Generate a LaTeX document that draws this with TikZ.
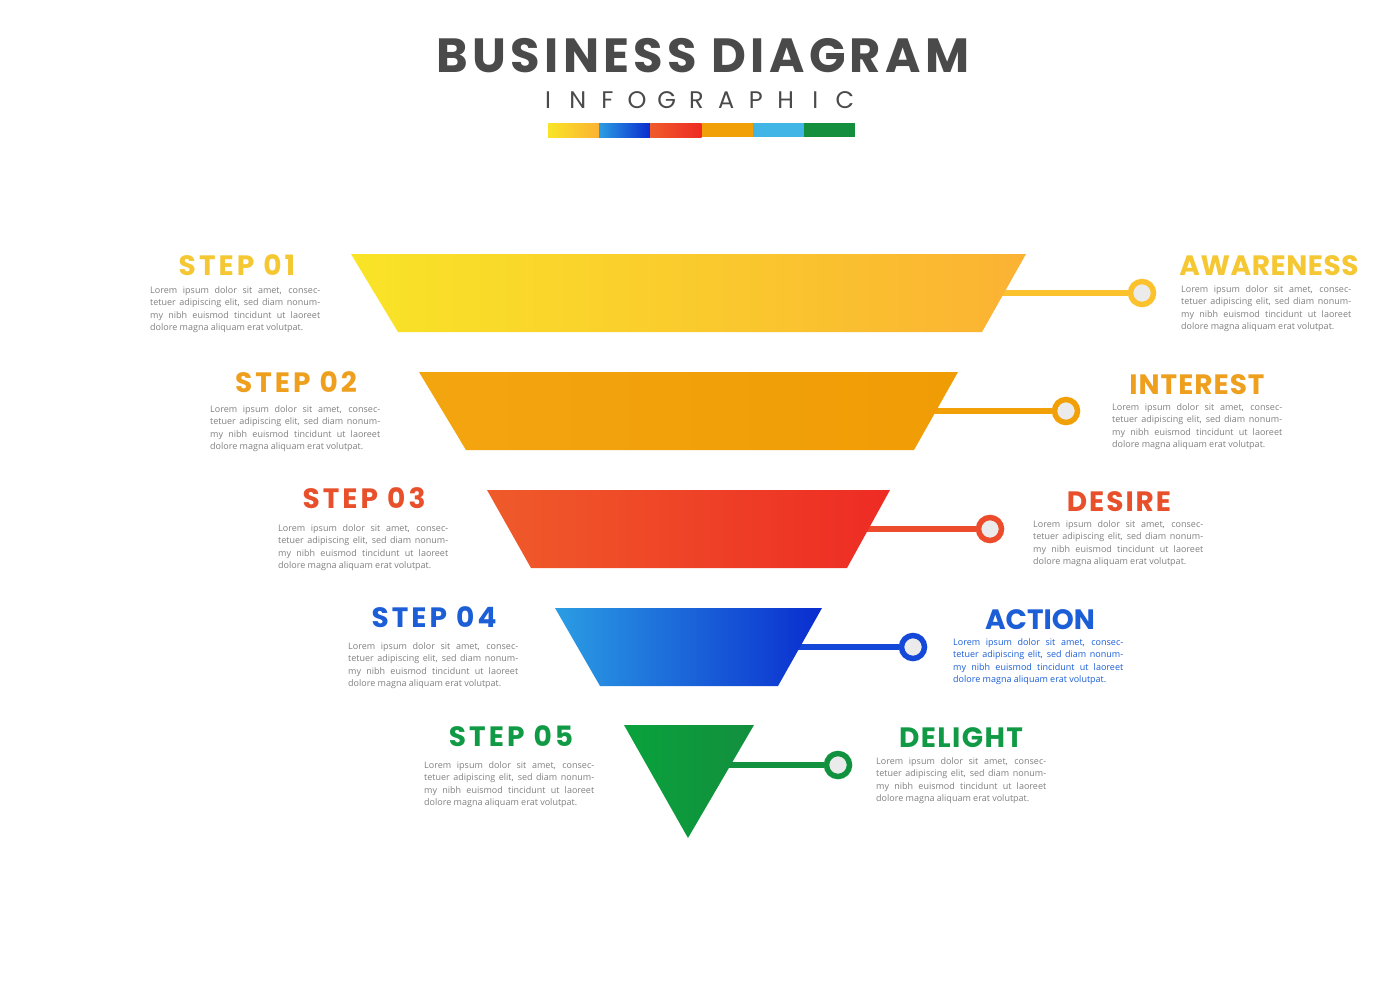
\documentclass[tikz,border=0pt]{standalone}
\usepackage{fontspec}
\setmainfont{Open Sans}
\newfontfamily\popfont{Poppins}
\definecolor{titlegray}{HTML}{4A4A4A}
\definecolor{bodygray}{HTML}{808080}
\definecolor{yelL}{HTML}{F9E427}
\definecolor{yelR}{HTML}{FBB233}
\definecolor{oraL}{HTML}{F3A510}
\definecolor{oraR}{HTML}{F09C05}
\definecolor{redL}{HTML}{EF5B2A}
\definecolor{redR}{HTML}{EE2B24}
\definecolor{bluL}{HTML}{2B9DE3}
\definecolor{bluR}{HTML}{0A2CCF}
\definecolor{grnL}{HTML}{09A23C}
\definecolor{grnR}{HTML}{138F3E}
\definecolor{hYel}{HTML}{F4C733}
\definecolor{hOra}{HTML}{EE9F1E}
\definecolor{hRed}{HTML}{E8502B}
\definecolor{hBlu}{HTML}{1B5ED6}
\definecolor{hGrn}{HTML}{119A45}
\definecolor{cYel}{HTML}{FBC22E}
\definecolor{cOra}{HTML}{F2A007}
\definecolor{cRed}{HTML}{EC4B2C}
\definecolor{cBlu}{HTML}{1448D8}
\definecolor{cGrn}{HTML}{12923F}
\definecolor{ltblue}{HTML}{41B6E6}
\definecolor{ringfill}{HTML}{EBEBEB}
\newcommand{\loremlines}{%
\makebox[170pt][s]{Lorem ipsum dolor sit amet, consec-}\\
\makebox[170pt][s]{tetuer adipiscing elit, sed diam nonum-}\\
\makebox[170pt][s]{my nibh euismod tincidunt ut laoreet}\\
dolore magna aliquam erat volutpat.}
\newcommand{\spaced}[2]{{\addfontfeature{LetterSpace=#1}#2}}
\tikzset{
  x=1pt, y=-1pt,
  headlbl/.style={anchor=base, inner sep=0pt, font=\popfont\bfseries\fontsize{28}{28}\selectfont},
  bodytxt/.style={anchor=north west, inner sep=0pt, align=left, text=bodygray, font=\fontsize{9}{12.5}\selectfont},
  conn/.style={line width=6.5pt},
  ring/.style={circle, minimum size=23pt, inner sep=0pt, line width=5.5pt, fill=ringfill},
  letter/.style={anchor=base, inner sep=0pt, text=titlegray, font=\popfont\fontsize{24}{24}\selectfont}
}
\begin{document}
\begin{tikzpicture}
\useasboundingbox[fill=white] (0,0) rectangle (1400,980);

% title
\node[anchor=base, inner sep=0pt, text=titlegray, font=\popfont\bfseries\fontsize{48}{48}\selectfont] (title) at (703,72) {\spaced{9}{BUSINESS DIAGRAM}};
\foreach \l [count=\i from 0] in {I,N,F,O,G,R,A,P,H,I,C}
  \node[letter] (sub\i) at ({548+29.7*\i},108) {\l};
% colour bar
\shade[left color=yelL, right color=yelR] (548,123) rectangle (599.2,137);
\shade[left color=bluL, right color=bluR] (599.2,123) rectangle (650.3,137);
\shade[left color=redL, right color=redR] (650.3,123) rectangle (701.5,137);
\fill[cOra] (701.5,123) rectangle (752.7,137);
\fill[ltblue] (752.7,123) rectangle (803.8,137);
\fill[grnR] (803.8,123) rectangle (855,137);

% connector start points and circles
\coordinate (s1) at (990,293);
\coordinate (s2) at (925,411);
\coordinate (s3) at (855,529);
\coordinate (s4) at (790,647);
\coordinate (s5) at (720,765);
\node[ring, draw=cYel] (c1) at (1142,293) {};
\node[ring, draw=cOra] (c2) at (1066,411) {};
\node[ring, draw=cRed] (c3) at (990,529) {};
\node[ring, draw=cBlu] (c4) at (913,647) {};
\node[ring, draw=cGrn] (c5) at (838,765) {};
\draw[conn, cYel] (s1) -- (c1);
\draw[conn, cOra] (s2) -- (c2);
\draw[conn, cRed] (s3) -- (c3);
\draw[conn, cBlu] (s4) -- (c4);
\draw[conn, cGrn] (s5) -- (c5);

% funnel
\shade[left color=yelL, right color=yelR] (351,254) -- (1026,254) -- (982,332) -- (398,332) -- cycle;
\shade[left color=oraL, right color=oraR] (419,372) -- (958,372) -- (914,450) -- (466,450) -- cycle;
\shade[left color=redL, right color=redR] (487,490) -- (890,490) -- (847,568) -- (531,568) -- cycle;
\shade[left color=bluL, right color=bluR] (555,608) -- (822,608) -- (778,686) -- (600,686) -- cycle;
\shade[left color=grnL, right color=grnR] (624,725) -- (754,725) -- (688,838) -- cycle;

% left labels
\node[headlbl, text=hYel] (st1) at (237,275) {\spaced{11}{STEP 01}};
\node[bodytxt] (lt1) at (150,286) {\loremlines};
\node[headlbl, text=hOra] (st2) at (296,392) {\spaced{11}{STEP 02}};
\node[bodytxt] (lt2) at (210,405) {\loremlines};
\node[headlbl, text=hRed] (st3) at (364,508) {\spaced{11}{STEP 03}};
\node[bodytxt] (lt3) at (278,524) {\loremlines};
\node[headlbl, text=hBlu] (st4) at (434,627) {\spaced{11}{STEP 04}};
\node[bodytxt] (lt4) at (348,642) {\loremlines};
\node[headlbl, text=hGrn] (st5) at (511,746) {\spaced{11}{STEP 05}};
\node[bodytxt] (lt5) at (424,761) {\loremlines};

% right labels
\node[headlbl, text=hYel] (rt1) at (1269,275) {\spaced{2}{AWARENESS}};
\node[bodytxt] (rb1) at (1181,285) {\loremlines};
\node[headlbl, text=hOra] (rt2) at (1197,394) {\spaced{3.5}{INTEREST}};
\node[bodytxt] (rb2) at (1112,403) {\loremlines};
\node[headlbl, text=hRed] (rt3) at (1119,511) {\spaced{7}{DESIRE}};
\node[bodytxt] (rb3) at (1033,520) {\loremlines};
\node[headlbl, text=hBlu] (rt4) at (1040,629) {ACTION};
\node[bodytxt, text=hBlu] (rb4) at (953,638) {\loremlines};
\node[headlbl, text=hGrn] (rt5) at (961,747) {\spaced{5}{DELIGHT}};
\node[bodytxt] (rb5) at (876,757) {\loremlines};
\end{tikzpicture}
\end{document}
